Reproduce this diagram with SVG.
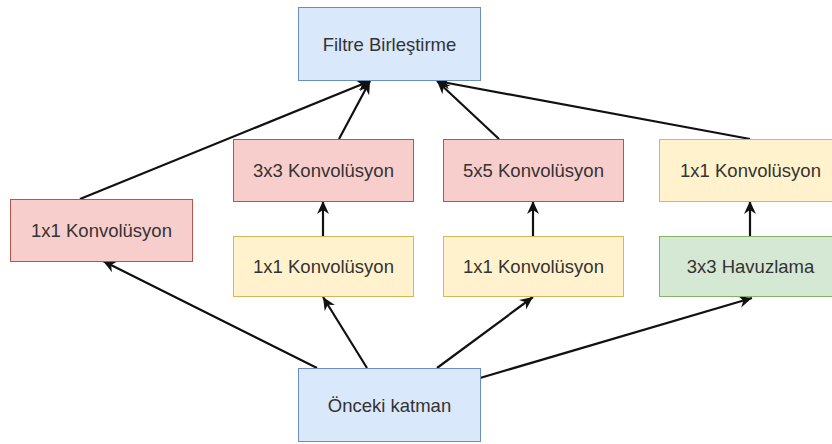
<svg xmlns="http://www.w3.org/2000/svg" width="832" height="444" viewBox="0 0 832 444">
  <style>
    .lbl { font-family: "Liberation Sans", Arial, sans-serif; font-size: 18.5px; fill: #333333; text-anchor: middle; dominant-baseline: central; }
    .blue { fill: #dae8fc; stroke: #6c8ebf; stroke-width: 1; }
    .red { fill: #f8cecc; stroke: #b85450; stroke-width: 1; }
    .yellow { fill: #fff2cc; stroke: #d6b656; stroke-width: 1; }
    .green { fill: #d5e8d4; stroke: #82b366; stroke-width: 1; }
    .edge { fill: none; stroke: #111111; stroke-width: 2.2; marker-end: url(#arrow); }
  </style>
  <defs>
    <marker id="arrow" markerUnits="userSpaceOnUse" markerWidth="14" markerHeight="14" viewBox="0 0 14 14" refX="13" refY="7" orient="auto">
      <path d="M0,1 L13,7 L0,13 L4,7 Z" fill="#111111"/>
    </marker>
  </defs>
  <rect width="832" height="444" fill="#ffffff"/>

  <g id="connectors">
    <line class="edge" x1="317" y1="368" x2="103" y2="261"/>
    <line class="edge" x1="367" y1="368" x2="323" y2="297"/>
    <line class="edge" x1="437" y1="368" x2="533" y2="297"/>
    <line class="edge" x1="480" y1="378" x2="752" y2="298"/>
    <line class="edge" x1="323" y1="236" x2="323" y2="201"/>
    <line class="edge" x1="533" y1="236" x2="533" y2="201"/>
    <line class="edge" x1="750" y1="236" x2="750" y2="201"/>
    <line class="edge" x1="80" y1="199" x2="370" y2="81"/>
    <line class="edge" x1="339" y1="139" x2="370" y2="81"/>
    <line class="edge" x1="499" y1="139" x2="437" y2="81"/>
    <line class="edge" x1="750" y1="139" x2="437" y2="81"/>
  </g>

  <g id="filtre-birlestirme">
    <rect class="blue" x="298.5" y="7.5" width="182" height="73"/>
    <text class="lbl" x="389.5" y="44">Filtre Birleştirme</text>
  </g>
  <g id="conv1x1-a">
    <rect class="red" x="10.5" y="199.5" width="182" height="62"/>
    <text class="lbl" x="101.5" y="230.5">1x1 Konvolüsyon</text>
  </g>
  <g id="conv3x3">
    <rect class="red" x="233.5" y="139.5" width="180" height="62"/>
    <text class="lbl" x="323.5" y="170.5">3x3 Konvolüsyon</text>
  </g>
  <g id="conv5x5">
    <rect class="red" x="443.5" y="139.5" width="180" height="62"/>
    <text class="lbl" x="533.5" y="170.5">5x5 Konvolüsyon</text>
  </g>
  <g id="conv1x1-d">
    <rect class="yellow" x="659.5" y="139.5" width="182" height="62"/>
    <text class="lbl" x="750.5" y="170.5">1x1 Konvolüsyon</text>
  </g>
  <g id="conv1x1-b">
    <rect class="yellow" x="233.5" y="236.5" width="180" height="60"/>
    <text class="lbl" x="323.5" y="266.5">1x1 Konvolüsyon</text>
  </g>
  <g id="conv1x1-c">
    <rect class="yellow" x="443.5" y="236.5" width="180" height="60"/>
    <text class="lbl" x="533.5" y="266.5">1x1 Konvolüsyon</text>
  </g>
  <g id="havuzlama">
    <rect class="green" x="659.5" y="236.5" width="182" height="60"/>
    <text class="lbl" x="750.5" y="266.5">3x3 Havuzlama</text>
  </g>
  <g id="onceki-katman">
    <rect class="blue" x="298.5" y="368.5" width="182" height="73"/>
    <text class="lbl" x="389.5" y="405">Önceki katman</text>
  </g>
</svg>
